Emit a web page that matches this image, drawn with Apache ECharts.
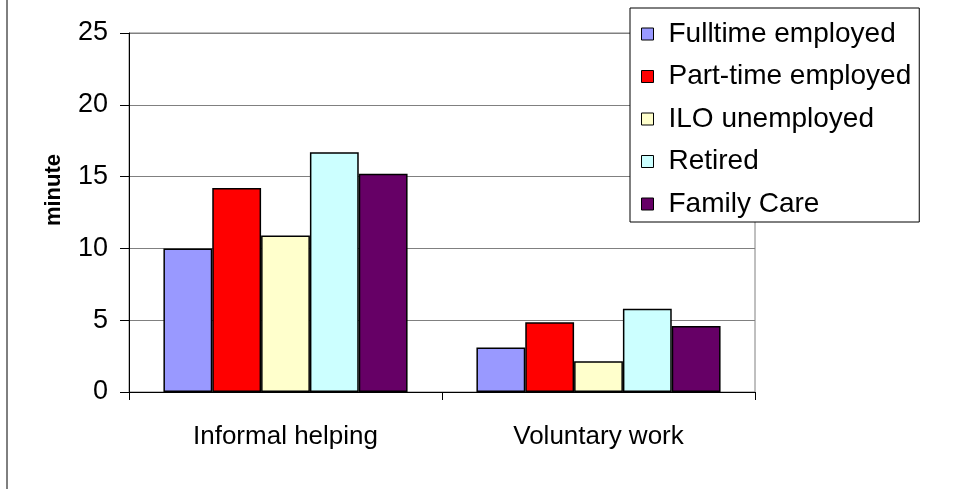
<!DOCTYPE html>
<html>
<head>
<meta charset="utf-8">
<script src="https://cdn.jsdelivr.net/npm/echarts@6/dist/echarts.min.js"></script>
<style>
  html, body { margin: 0; padding: 0; background: #fff; }
  #main { width: 976px; height: 489px; }
</style>
</head>
<body>
<div id="main"></div>
<script>
var categories = ['Informal helping', 'Voluntary work'];
var seriesNames = ['Fulltime employed', 'Part-time employed', 'ILO unemployed', 'Retired', 'Family Care'];
var fulltime = [10.0, 3.1];
var parttime = [14.2, 4.85];
var unemployed = [10.9, 2.15];
var retired = [16.7, 5.8];
var familyCare = [15.2, 4.6];
var colors = ['#9999ff', '#ff0000', '#ffffcc', '#ccffff', '#660066'];

var values = [fulltime, parttime, unemployed, retired, familyCare];
var font = 'Liberation Sans, Arial, sans-serif';

var myChart = echarts.init(document.getElementById('main'), null, { renderer: 'canvas' });

var option = {
    backgroundColor: '#fff',
    animation: false,
    grid: {
        left: 129,
        right: 221,
        top: 33,
        bottom: 97,
        show: true,
        borderColor: '#808080',
        borderWidth: 1
    },
    legend: {
        orient: 'vertical',
        left: 630,
        top: 8,
        itemWidth: 12,
        itemHeight: 12,
        itemGap: 14.5,
        padding: [12, 8, 4, 11],
        borderColor: '#000',
        borderWidth: 1,
        backgroundColor: '#fff',
        icon: 'rect',
        itemStyle: { borderColor: '#000', borderWidth: 1 },
        textStyle: {
            fontFamily: font, fontSize: 28, color: '#000',
            width: 240, padding: [0, 0, 0, 10]
        },
        data: seriesNames
    },
    xAxis: {
        type: 'category',
        data: categories,
        axisLine: { lineStyle: { color: '#000', width: 1 } },
        axisTick: { show: true, length: 8, inside: false, alignWithLabel: false, lineStyle: { color: '#000' } },
        axisLabel: { fontFamily: font, fontSize: 26, color: '#000', margin: 32 }
    },
    yAxis: {
        type: 'value',
        min: 0,
        max: 25,
        interval: 5,
        axisLine: { show: true, lineStyle: { color: '#000', width: 1 } },
        axisTick: { show: true, length: 9, lineStyle: { color: '#000' } },
        splitLine: { lineStyle: { color: '#808080', width: 1 } },
        axisLabel: { fontFamily: font, fontSize: 27, color: '#000', margin: 21 }
    },
    graphic: [
        {
            type: 'line',
            shape: { x1: 7, y1: 0, x2: 7, y2: 489 },
            style: { stroke: '#000', lineWidth: 1 }
        },
        {
            type: 'text',
            x: 54,
            y: 190,
            rotation: Math.PI / 2,
            style: {
                text: 'minute',
                fontFamily: font,
                fontSize: 22,
                fontWeight: 'bold',
                fill: '#000',
                textAlign: 'center',
                textVerticalAlign: 'middle'
            }
        }
    ],
    series: seriesNames.map(function (name, i) {
        return {
            name: name,
            type: 'bar',
            data: values[i],
            barGap: '0%',
            barCategoryGap: '22%',
            itemStyle: { color: colors[i], borderColor: '#000', borderWidth: 1.5 }
        };
    })
};

myChart.setOption(option);
</script>
</body>
</html>
